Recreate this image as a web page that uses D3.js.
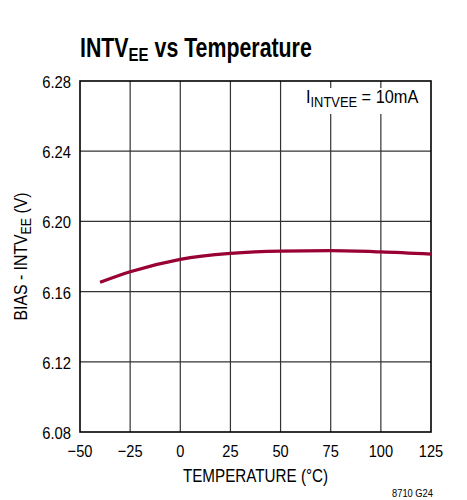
<!DOCTYPE html>
<html>
<head>
<meta charset="utf-8">
<script src="https://cdn.jsdelivr.net/npm/d3@7/dist/d3.min.js"></script>
<style>
  html, body { margin: 0; padding: 0; background: #fff; }
  svg { display: block; }
  text { font-family: "Liberation Sans", Arial, sans-serif; fill: #000; }
</style>
</head>
<body>
<script>
// Bias minus INTVEE voltage vs temperature at 10mA load
const temperature = [-40, -25, 0, 25, 50, 75, 100, 125];
const voltage = [6.1653, 6.1713, 6.1784, 6.1818, 6.1831, 6.1833, 6.1826, 6.1813];
const xTicks = [-50, -25, 0, 25, 50, 75, 100, 125];
const yTicks = [6.08, 6.12, 6.16, 6.20, 6.24, 6.28];

const W = 467, H = 500;
const m = { left: 80, right: 36, top: 81, bottom: 68 };

const svg = d3.select("body").append("svg").attr("width", W).attr("height", H);

const x = d3.scaleLinear().domain([-50, 125]).range([m.left, W - m.right]);
const y = d3.scaleLinear().domain([6.08, 6.28]).range([H - m.bottom, m.top]);

// condensed-looking text: horizontal squeeze around the anchor point
function ctext(parent, px, py, sx, rot) {
  const r = rot ? ` rotate(${rot})` : "";
  return parent.append("text")
    .attr("transform", `translate(${px},${py})${r} scale(${sx},1)`);
}

// grid
const grid = svg.append("g").attr("stroke", "#333").attr("stroke-width", 1.2);
grid.selectAll("line.v").data(xTicks.slice(1, -1)).join("line")
  .attr("x1", d => x(d)).attr("x2", d => x(d))
  .attr("y1", y(6.28)).attr("y2", y(6.08));
grid.selectAll("line.h").data(yTicks.slice(1, -1)).join("line")
  .attr("x1", x(-50)).attr("x2", x(125))
  .attr("y1", d => y(d)).attr("y2", d => y(d));

// annotation with white backing over the grid
svg.append("rect").attr("x", 301).attr("y", 88).attr("width", 123).attr("height", 26).attr("fill", "#fff");
const ann = ctext(svg, 306, 103, 0.86).attr("font-size", 19);
ann.append("tspan").text("I");
ann.append("tspan").attr("font-size", 15).attr("dy", 4).text("INTVEE");
ann.append("tspan").attr("dy", -4).text(" = 10mA");

// frame
svg.append("rect")
  .attr("x", x(-50)).attr("y", y(6.28))
  .attr("width", x(125) - x(-50)).attr("height", y(6.08) - y(6.28))
  .attr("fill", "none").attr("stroke", "#000").attr("stroke-width", 1.6);

// curve
const line = d3.line().x((d, i) => x(temperature[i])).y(d => y(d)).curve(d3.curveMonotoneX);
svg.append("path").datum(voltage)
  .attr("d", line)
  .attr("fill", "none").attr("stroke", "#990033").attr("stroke-width", 3.2)
  .attr("stroke-linecap", "butt");

// tick labels
const fmtX = d => d < 0 ? "\u2212" + Math.abs(d) : String(d);
const gx = svg.append("g");
xTicks.forEach(d => {
  ctext(gx, x(d), H - m.bottom + 25, 0.86)
    .attr("text-anchor", "middle").attr("font-size", 17).text(fmtX(d));
});
const gy = svg.append("g");
yTicks.forEach(d => {
  ctext(gy, x(-50) - 9, y(d) + 7, 0.87)
    .attr("text-anchor", "end").attr("font-size", 17).text(d.toFixed(2));
});

// axis titles
ctext(svg, (x(-50) + x(125)) / 2, 482, 0.845)
  .attr("text-anchor", "middle").attr("font-size", 18)
  .text("TEMPERATURE (\u00B0C)");

const yl = ctext(svg, 27, (y(6.08) + y(6.28)) / 2, 0.88, -90)
  .attr("text-anchor", "middle").attr("font-size", 18);
yl.append("tspan").text("BIAS - INTV");
yl.append("tspan").attr("font-size", 14).attr("dy", 4).text("EE");
yl.append("tspan").attr("dy", -4).text(" (V)");

// title
const t = ctext(svg, 80, 57, 0.79).attr("font-size", 27).attr("font-weight", "bold");
t.append("tspan").text("INTV");
t.append("tspan").attr("font-size", 19).attr("dy", 4).text("EE");
t.append("tspan").attr("dy", -4).text(" vs Temperature");

ctext(svg, 433, 497, 0.85)
  .attr("text-anchor", "end").attr("font-size", 11).text("8710 G24");
</script>
</body>
</html>
